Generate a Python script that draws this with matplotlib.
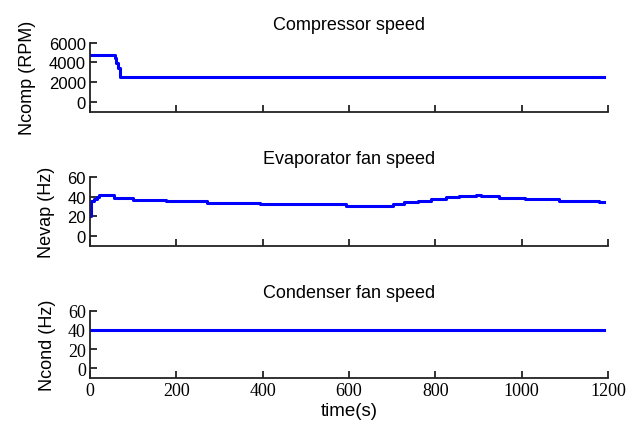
import matplotlib.pyplot as plt

# compressor speed (RPM), step changes
comp_t = [0, 58, 61, 65, 69, 1190]
comp_v = [4700, 4400, 3900, 3400, 2500, 2500]

# evaporator fan speed (Hz)
evap_t = [0, 2, 8, 15, 21, 56, 100, 175, 270, 394, 592, 701, 727, 759,
          790, 825, 855, 895, 905, 948, 1007, 1086, 1179, 1190]
evap_v = [20.5, 36, 38, 39.4, 41.7, 38.4, 36.7, 35.3, 34, 32.4, 30.9, 32.4,
          34.3, 36, 37.7, 39.4, 40.4, 41.3, 40.4, 38.9, 37.5, 35.8, 34.4, 34.4]

# condenser fan speed (Hz)
cond_t = [0, 1190]
cond_v = [40, 40]

titles = ["Compressor speed", "Evaporator fan speed", "Condenser fan speed"]
ylabels = ["Ncomp (RPM)", "Nevap (Hz)", "Ncond (Hz)"]
yticks = [[0, 2000, 4000, 6000], [0, 20, 40, 60], [0, 20, 40, 60]]
ylims = [(-1000, 6000), (-10, 60), (-10, 60)]
xticks = [0, 200, 400, 600, 800, 1000, 1200]

fig = plt.figure(figsize=(6.3, 4.31), dpi=100)
boxes = [(0.143, 0.738, 0.822, 0.161),
         (0.143, 0.427, 0.822, 0.160),
         (0.143, 0.121, 0.822, 0.156)]
data = [(comp_t, comp_v), (evap_t, evap_v), (cond_t, cond_v)]

sans = "Liberation Sans"
serif = "Liberation Serif"

for i, box in enumerate(boxes):
    ax = fig.add_axes(box)
    t, v = data[i]
    ax.plot(t, v, color="#0000ff", lw=2.2, drawstyle="steps-post")
    ax.set_xlim(0, 1200)
    ax.set_ylim(*ylims[i])
    ax.set_xticks(xticks)
    ax.set_yticks(yticks[i])
    ax.spines["top"].set_visible(False)
    ax.spines["right"].set_visible(False)
    for s in ("left", "bottom"):
        ax.spines[s].set_linewidth(1.3)
        ax.spines[s].set_color("#222222")
    ax.tick_params(direction="in", length=5, width=1.3, color="#222222", pad=3)
    ax.set_title(titles[i], fontsize=13, family=sans, pad=10)
    ax.set_ylabel(ylabels[i], fontsize=13, family=sans, labelpad=9)
    lab_font = serif if i == 2 else sans
    lab_size = 13 if i == 2 else 12
    for lab in ax.get_yticklabels():
        lab.set_family(lab_font)
        lab.set_fontsize(lab_size)
    if i < 2:
        ax.set_xticklabels([])
    else:
        for lab in ax.get_xticklabels():
            lab.set_family(serif)
            lab.set_fontsize(13)
        ax.set_xlabel("time(s)", fontsize=13.5, family=sans, labelpad=2)

fig.savefig("out.png", dpi=100)
